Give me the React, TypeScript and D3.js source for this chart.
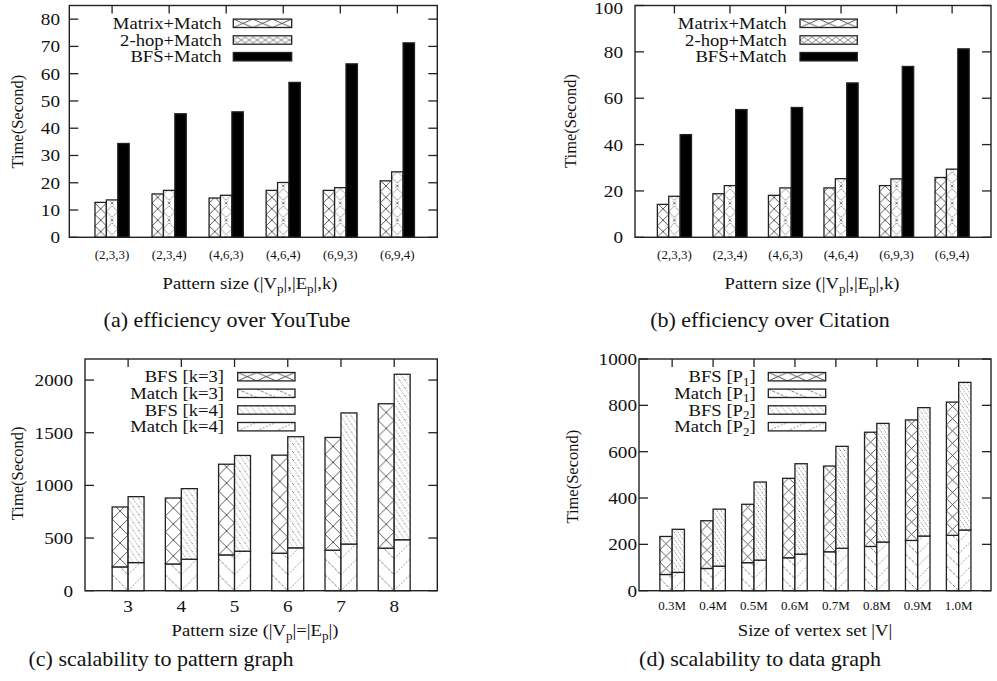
import React from "react";
import * as d3 from "d3";

// ---------- data ----------
const patternKeys = ["(2,3,3)", "(2,3,4)", "(4,6,3)", "(4,6,4)", "(6,9,3)", "(6,9,4)"];

// (a) YouTube
const youtubeMatrix = [12.8, 15.9, 14.4, 17.2, 17.2, 20.7];
const youtube2hop = [13.7, 17.2, 15.4, 20.1, 18.2, 24.0];
const youtubeBfs = [34.4, 45.3, 46.0, 56.8, 63.6, 71.3];

// (b) Citation
const citationMatrix = [14.2, 18.8, 18.1, 21.3, 22.3, 25.8];
const citation2hop = [17.7, 22.3, 21.3, 25.3, 25.2, 29.4];
const citationBfs = [44.3, 55.1, 56.0, 66.6, 73.7, 81.3];

// (c) pattern graph (stacked: Match at bottom, BFS on top)
const patternSizes = [3, 4, 5, 6, 7, 8];
const matchK3 = [226, 254, 340, 356, 385, 404];
const bfsK3 = [569, 626, 861, 931, 1070, 1371];
const matchK4 = [267, 299, 375, 407, 443, 484];
const bfsK4 = [626, 670, 909, 1055, 1245, 1571];

// (d) data graph
const vertexSets = ["0.3M", "0.4M", "0.5M", "0.6M", "0.7M", "0.8M", "0.9M", "1.0M"];
const matchP1 = [70, 96, 121, 142, 168, 191, 217, 239];
const bfsP1 = [164, 206, 252, 343, 370, 493, 520, 575];
const matchP2 = [79, 106, 132, 158, 183, 210, 236, 262];
const bfsP2 = [186, 246, 337, 390, 440, 512, 554, 637];

const ticksA = [0, 10, 20, 30, 40, 50, 60, 70, 80];
const ticksB = [0, 20, 40, 60, 80, 100];
const ticksC = [0, 500, 1000, 1500, 2000];
const ticksD = [0, 200, 400, 600, 800, 1000];

// ---------- style ----------
const SERIF = "'Liberation Serif', 'Times New Roman', serif";
const STRETCH = 1.13;
const INK = "#222";

type Part = string | { sub: string };

function Label({ x, y, size, anchor = "middle", stretch = STRETCH, parts, rotate = 0 }: any) {
  const items: any[] = [];
  let afterSub = false;
  (parts as Part[]).forEach((p, i) => {
    if (typeof p === "string") {
      items.push(<tspan key={i} dy={afterSub ? -size * 0.22 : 0}>{p}</tspan>);
      afterSub = false;
    } else {
      items.push(<tspan key={i} dy={size * 0.22} fontSize={size * 0.7}>{p.sub}</tspan>);
      afterSub = true;
    }
  });
  const tr = rotate
    ? `translate(${x},${y}) rotate(${rotate})`
    : `translate(${x},${y}) scale(${stretch},1)`;
  return (
    <text transform={tr} textAnchor={anchor} fontSize={size} fontFamily={SERIF} fill="#111">
      {items}
    </text>
  );
}

// one pattern per rectangle, anchored at the rectangle's bottom-left
function Hatch({ id, kind, x, y, w, h, legend }: any) {
  const base = y + h;
  let cw = w, ch = w, body: any = null;
  if (kind === "cross") {
    cw = legend ? w / 3 : w;
    ch = legend ? h : w;
    body = <path d={`M0,0L${cw},${ch}M${cw},0L0,${ch}`} stroke="#333" strokeWidth={0.8} fill="none" />;
  } else if (kind === "diamond") {
    cw = legend ? 8 : w;
    ch = legend ? h : w * 1.5;
    const m = cw / 2, t = ch * 0.15, bt = ch * 0.85, s = Math.min(1.5, cw / 6);
    body = (
      <g fill="none" stroke="#444" strokeWidth={0.7}>
        <path d={`M0,${ch / 2}L${m},${t}L${cw},${ch / 2}L${m},${bt}Z`} strokeDasharray={legend ? "none" : "2,0.8"} />
        {legend ? null : (
          <path d={`M${m - s},${-s}L${m + s},${s}M${m + s},${-s}L${m - s},${s}M${m - s},${ch - s}L${m + s},${ch + s}M${m + s},${ch - s}L${m - s},${ch + s}`} />
        )}
      </g>
    );
  } else if (kind === "bslash") {
    cw = legend ? w / 3 : w;
    ch = legend ? h : w;
    body = <path d={`M0,0L${cw},${ch}`} stroke="#555" strokeWidth={0.8} strokeDasharray="3,1.5" fill="none" />;
  } else if (kind === "dotb") {
    cw = legend ? w / 9 : w / 3;
    ch = legend ? h : w / 2;
    body = <path d={`M0,0L${cw},${ch}`} stroke="#555" strokeWidth={0.8} strokeDasharray="1.2,1.6" fill="none" />;
  } else if (kind === "dots") {
    cw = legend ? w / 3 : w;
    ch = legend ? h : w;
    body = <path d={`M0,${ch}L${cw},0`} stroke="#666" strokeWidth={0.8} strokeDasharray="1.6,1.8" fill="none" />;
  }
  return (
    <pattern id={id} patternUnits="userSpaceOnUse" x={x} y={base} width={cw} height={ch}>
      <rect width={cw} height={ch} fill="#fff" />
      {body}
    </pattern>
  );
}

function Box({ id, kind, x, y, w, h, legend = false }: any) {
  if (h <= 0) return null;
  if (kind === "solid") {
    return <rect x={x} y={y} width={w} height={h} fill="#000" stroke={INK} strokeWidth={1.3} />;
  }
  return (
    <g>
      <defs>
        <Hatch id={id} kind={kind} x={x} y={y} w={w} h={h} legend={legend} />
      </defs>
      <rect x={x} y={y} width={w} height={h} fill={`url(#${id})`} stroke={INK} strokeWidth={1.3} />
    </g>
  );
}

function Panel({ cfg }: any) {
  const { key, l, r, t, b, xDomain, yMax, yTicks, cats, catPos, catSize, catY, bw, stacked, series,
    tickRight, legend, yLabel, xTitle, caption } = cfg;
  const x = d3.scaleLinear().domain(xDomain).range([l, r]);
  const y = d3.scaleLinear().domain([0, yMax]).range([b, t]);
  const unit = x(1) - x(0);
  const barW = bw * unit;

  const bars: any[] = [];
  if (!stacked) {
    const n = series.length;
    cats.forEach((_: any, i: number) => {
      series.forEach((s: any, j: number) => {
        const cx = x(catPos[i]) + (j - (n - 1) / 2) * barW;
        const v = s.values[i];
        bars.push(<Box key={`${key}-${j}-${i}`} id={`${key}-${j}-${i}`} kind={s.kind}
          x={cx - barW / 2} y={y(v)} w={barW} h={y(0) - y(v)} />);
      });
    });
  } else {
    // series are [[bottom, top], [bottom, top]] stacks
    cats.forEach((_: any, i: number) => {
      series.forEach((stack: any[], j: number) => {
        const cx = x(catPos[i]) + (j - 0.5) * barW;
        let acc = 0;
        stack.forEach((s: any, k: number) => {
          const v0 = acc, v1 = acc + s.values[i];
          acc = v1;
          bars.push(<Box key={`${key}-${j}-${k}-${i}`} id={`${key}-${j}-${k}-${i}`} kind={s.kind}
            x={cx - barW / 2} y={y(v1)} w={barW} h={y(v0) - y(v1)} />);
        });
      });
    });
  }

  return (
    <g>
      {bars}
      {yTicks.map((v: number) => (
        <g key={v}>
          <line x1={l} x2={l + 9} y1={y(v)} y2={y(v)} stroke={INK} strokeWidth={1.3} />
          <line x1={r - 9} x2={r} y1={y(v)} y2={y(v)} stroke={INK} strokeWidth={1.3} />
          <Label x={tickRight} y={Math.max(y(v) + 6, 13.5)} size={17} anchor="end" parts={[String(v)]} />
        </g>
      ))}
      {cats.map((c: string, i: number) => (
        <g key={c}>
          <line x1={x(catPos[i])} x2={x(catPos[i])} y1={t} y2={t + 8} stroke={INK} strokeWidth={1.3} />
          <Label x={x(catPos[i])} y={catY} size={catSize} parts={[c]} />
        </g>
      ))}
      <rect x={l} y={t} width={r - l} height={b - t} fill="none" stroke={INK} strokeWidth={1.4} />
      {legend.items.map((it: any, i: number) => {
        const cy = legend.rows[i];
        return (
          <g key={i}>
            <Label x={legend.textRight} y={cy + 5.5} size={16.5} anchor="end" parts={it.label} />
            <Box id={`${key}-leg-${i}`} kind={it.kind} x={legend.box[0]} y={cy - 4.2}
              w={legend.box[1] - legend.box[0]} h={8.4} legend />
          </g>
        );
      })}
      <Label x={yLabel[0]} y={yLabel[1]} size={16.5} rotate={-90} parts={["Time(Second)"]} />
      <Label x={xTitle[0]} y={xTitle[1]} size={16.5} parts={xTitle[2]} />
      <Label x={caption[0]} y={caption[1]} size={20} stretch={1.1} parts={[caption[2]]} />
    </g>
  );
}

const abLegend = [
  { label: ["Matrix+Match"], kind: "cross" },
  { label: ["2-hop+Match"], kind: "diamond" },
  { label: ["BFS+Match"], kind: "solid" },
];
const abTitle: Part[] = ["Pattern size (|V", { sub: "p" }, "|,|E", { sub: "p" }, "|,k)"];

const panelA = {
  key: "pa", l: 69.3, r: 437.3, t: 5.5, b: 237.3, xDomain: [-0.75, 5.7], yMax: 85, yTicks: ticksA,
  cats: patternKeys, catPos: patternKeys.map((_, i) => i), catSize: 11.5, catY: 259, bw: 0.2, stacked: false,
  series: [
    { kind: "cross", values: youtubeMatrix },
    { kind: "diamond", values: youtube2hop },
    { kind: "solid", values: youtubeBfs },
  ],
  tickRight: 60,
  legend: { items: abLegend, rows: [23.3, 40, 56.7], textRight: 221.7, box: [233.3, 291.7] },
  yLabel: [23, 121.7], xTitle: [250, 289, abTitle], caption: [227, 327, "(a)  efficiency over YouTube"],
};

const panelB = {
  key: "pb", l: 635, r: 991, t: 5.5, b: 237.3, xDomain: [-0.71, 5.7], yMax: 100, yTicks: ticksB,
  cats: patternKeys, catPos: patternKeys.map((_, i) => i), catSize: 11.5, catY: 259, bw: 0.205, stacked: false,
  series: [
    { kind: "cross", values: citationMatrix },
    { kind: "diamond", values: citation2hop },
    { kind: "solid", values: citationBfs },
  ],
  tickRight: 623,
  legend: { items: abLegend, rows: [23.3, 40, 56.7], textRight: 786.7, box: [800, 857.3] },
  yLabel: [576, 121], xTitle: [812, 289, abTitle], caption: [770, 327, "(b)  efficiency over Citation"],
};

const panelC = {
  key: "pc", l: 85, r: 437.3, t: 359, b: 590.7, xDomain: [2.19, 8.81], yMax: 2200, yTicks: ticksC,
  cats: patternSizes.map(String), catPos: patternSizes, catSize: 17, catY: 612, bw: 0.3, stacked: true,
  series: [
    [{ kind: "bslash", values: matchK3 }, { kind: "cross", values: bfsK3 }],
    [{ kind: "dots", values: matchK4 }, { kind: "dotb", values: bfsK4 }],
  ],
  tickRight: 73,
  legend: {
    items: [
      { label: ["BFS [k=3]"], kind: "cross" },
      { label: ["Match [k=3]"], kind: "bslash" },
      { label: ["BFS [k=4]"], kind: "dotb" },
      { label: ["Match [k=4]"], kind: "dots" },
    ],
    rows: [376.7, 393.3, 410, 426.7], textRight: 224, box: [237.7, 295],
  },
  yLabel: [23, 473.3],
  xTitle: [255, 636, ["Pattern size (|V", { sub: "p" }, "|=|E", { sub: "p" }, "|)"]],
  caption: [161, 666, "(c)  scalability to pattern graph"],
};

const panelD = {
  key: "pd", l: 639, r: 991, t: 359, b: 590.7, xDomain: [-0.81, 7.79], yMax: 1000, yTicks: ticksD,
  cats: vertexSets, catPos: vertexSets.map((_, i) => i), catSize: 11.5, catY: 610, bw: 0.3, stacked: true,
  series: [
    [{ kind: "bslash", values: matchP1 }, { kind: "cross", values: bfsP1 }],
    [{ kind: "dots", values: matchP2 }, { kind: "dotb", values: bfsP2 }],
  ],
  tickRight: 637,
  legend: {
    items: [
      { label: ["BFS [P", { sub: "1" }, "]"], kind: "cross" },
      { label: ["Match [P", { sub: "1" }, "]"], kind: "bslash" },
      { label: ["BFS [P", { sub: "2" }, "]"], kind: "dotb" },
      { label: ["Match [P", { sub: "2" }, "]"], kind: "dots" },
    ],
    rows: [376.7, 393.3, 410, 426.7], textRight: 755.7, box: [768.3, 825.7],
  },
  yLabel: [578, 476.7],
  xTitle: [815, 636, ["Size of vertex set |V|"]],
  caption: [760, 666, "(d)  scalability to data graph"],
};

export default function App() {
  return (
    <svg width={997} height={681} style={{ position: "absolute", left: 0, top: 0, background: "#fff" }}>
      <rect width={997} height={681} fill="#fff" />
      <Panel cfg={panelA} />
      <Panel cfg={panelB} />
      <Panel cfg={panelC} />
      <Panel cfg={panelD} />
    </svg>
  );
}
